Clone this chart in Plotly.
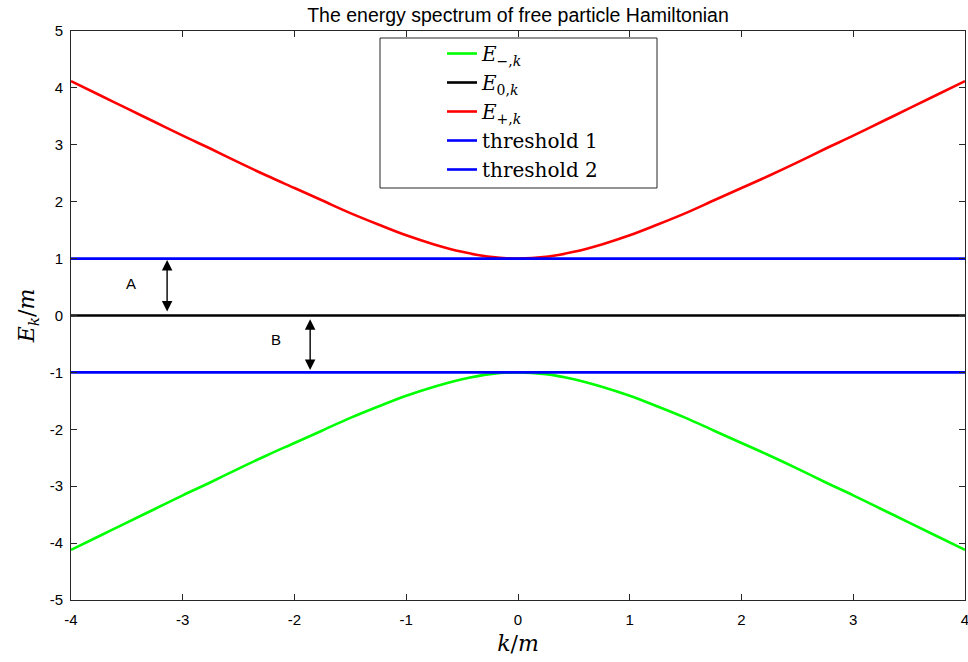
import plotly.graph_objects as go

# k/m samples
k_vals = [-4.0, -3.75, -3.5, -3.25, -3.0, -2.75, -2.5, -2.25, -2.0, -1.75, -1.5, -1.25, -1.0,
          -0.75, -0.5, -0.25, 0.0, 0.25, 0.5, 0.75, 1.0, 1.25, 1.5, 1.75, 2.0, 2.25, 2.5,
          2.75, 3.0, 3.25, 3.5, 3.75, 4.0]
# upper branch E_{+,k}/m
e_plus = [4.12, 3.88, 3.64, 3.40, 3.16, 2.93, 2.69, 2.46, 2.24, 2.02, 1.80, 1.60, 1.41,
          1.25, 1.12, 1.03, 1.00, 1.03, 1.12, 1.25, 1.41, 1.60, 1.80, 2.02, 2.24, 2.46, 2.69,
          2.93, 3.16, 3.40, 3.64, 3.88, 4.12]
# lower branch E_{-,k}/m
e_minus = [-4.12, -3.88, -3.64, -3.40, -3.16, -2.93, -2.69, -2.46, -2.24, -2.02, -1.80, -1.60, -1.41,
           -1.25, -1.12, -1.03, -1.00, -1.03, -1.12, -1.25, -1.41, -1.60, -1.80, -2.02, -2.24, -2.46, -2.69,
           -2.93, -3.16, -3.40, -3.64, -3.88, -4.12]
line_x = [-4.0, 4.0]
e_zero = [0.0, 0.0]
threshold1 = [1.0, 1.0]
threshold2 = [-1.0, -1.0]

x_ticks = [-4, -3, -2, -1, 0, 1, 2, 3, 4]
y_ticks = [-5, -4, -3, -2, -1, 0, 1, 2, 3, 4, 5]

# arrows: (x, y_start, y_end), labels: (x, y, text)
arrow_A = (-3.14, 1.0, 0.07)
arrow_B = (-1.86, -0.04, -0.96)
label_A = (-3.46, 0.56, "A")
label_B = (-2.17, -0.42, "B")

fig = go.Figure()
LW = 2.6
fig.add_trace(go.Scatter(x=k_vals, y=e_minus, mode="lines", line=dict(color="#00ff00", width=LW, shape="spline"),
                         name="<i>E</i><sub>−,<i>k</i></sub>"))
fig.add_trace(go.Scatter(x=line_x, y=e_zero, mode="lines", line=dict(color="black", width=LW),
                         name="<i>E</i><sub>0,<i>k</i></sub>"))
fig.add_trace(go.Scatter(x=k_vals, y=e_plus, mode="lines", line=dict(color="#ff0000", width=LW, shape="spline"),
                         name="<i>E</i><sub>+,<i>k</i></sub>"))
fig.add_trace(go.Scatter(x=line_x, y=threshold1, mode="lines", line=dict(color="#0000ff", width=LW),
                         name="threshold 1"))
fig.add_trace(go.Scatter(x=line_x, y=threshold2, mode="lines", line=dict(color="#0000ff", width=LW),
                         name="threshold 2"))

annotations = []
for (ax_, y0, y1) in (arrow_A, arrow_B):
    annotations.append(dict(x=ax_, y=y1, ax=ax_, ay=y0, xref="x", yref="y", axref="x", ayref="y",
                            text="", showarrow=True, arrowhead=2, startarrowhead=2, arrowside="end+start",
                            arrowwidth=1.4, arrowsize=1.5, startarrowsize=1.5, arrowcolor="black"))
for (lx, ly, t) in (label_A, label_B):
    annotations.append(dict(x=lx, y=ly, xref="x", yref="y", text=t, showarrow=False,
                            font=dict(family="Liberation Sans, Arial", size=15, color="black")))

axis_common = dict(showgrid=False, zeroline=False, showline=True, linecolor="#262626", linewidth=1,
                   mirror="ticks", ticks="inside", ticklen=6, tickcolor="#262626",
                   ticklabeloverflow="allow", automargin=False,
                   tickfont=dict(family="Liberation Sans, Arial", size=15, color="black"))

fig.update_layout(
    width=968, height=662,
    margin=dict(l=71, r=3, t=31, b=62, autoexpand=False),
    paper_bgcolor="white", plot_bgcolor="white",
    title=dict(text="The energy spectrum of free particle Hamiltonian", x=518 / 968, xanchor="center",
               y=1 - 15 / 662, yanchor="middle",
               font=dict(family="Liberation Sans, Arial", size=19.5, color="black")),
    xaxis=dict(range=[-4, 4], tickvals=x_ticks, ticktext=[str(v) for v in x_ticks], ticklabelstandoff=6,
               title=dict(text="<i>k</i>/<i>m</i>", standoff=8,
                          font=dict(family="DejaVu Serif, serif", size=22, color="black")),
               **axis_common),
    yaxis=dict(range=[-5, 5], tickvals=y_ticks, ticktext=[str(v) for v in y_ticks], ticklabelstandoff=4,
               title=dict(text="<i>E</i><sub><i>k</i></sub>/<i>m</i>", standoff=8,
                          font=dict(family="DejaVu Serif, serif", size=22, color="black")),
               **axis_common),
    legend=dict(x=(442 - 71) / 894, y=(600 - 34) / 569, xanchor="left", yanchor="top",
                bgcolor="rgba(0,0,0,0)", borderwidth=0, tracegroupgap=0,
                font=dict(family="DejaVu Serif, serif", size=20, color="black")),
    shapes=[dict(type="rect", xref="paper", yref="paper",
                 x0=(380 - 71) / 894, x1=(657 - 71) / 894, y0=(600 - 188) / 569, y1=(600 - 38) / 569,
                 line=dict(color="#262626", width=1), fillcolor="white", layer="above")],
    annotations=annotations,
    showlegend=True,
)

fig.write_html("out.html", config={"displayModeBar": False},
               post_script="document.body.style.margin='0';document.body.style.overflow='hidden';")
